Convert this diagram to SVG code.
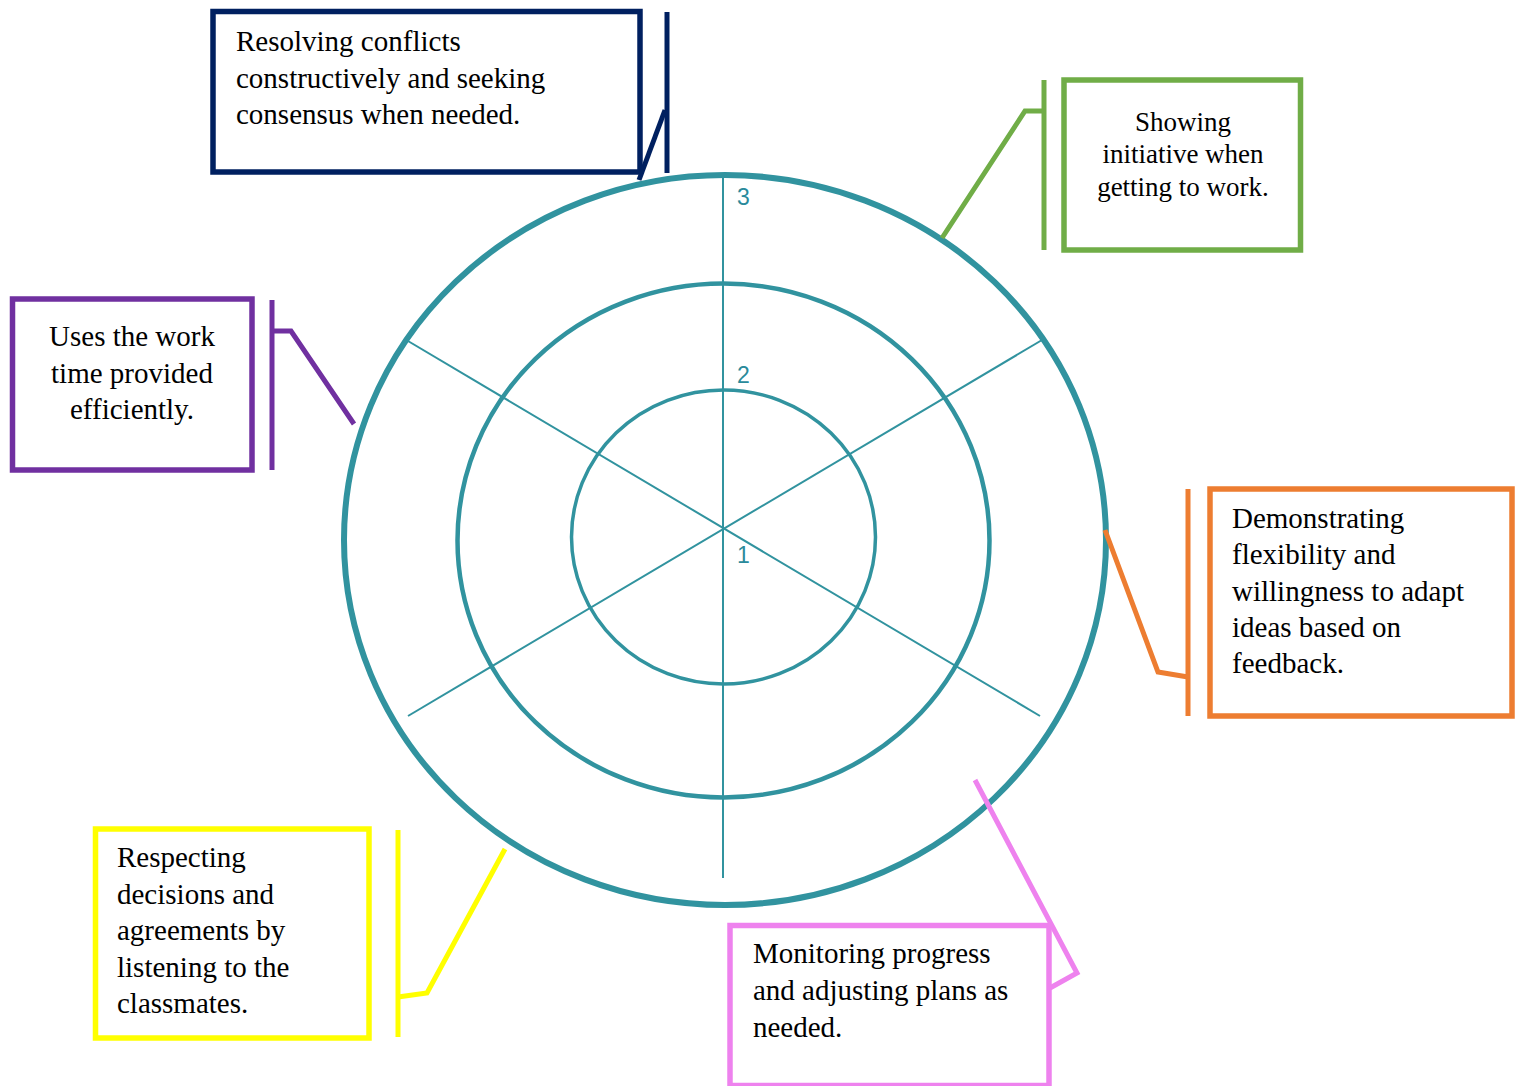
<svg xmlns="http://www.w3.org/2000/svg" width="1518" height="1086" viewBox="0 0 1518 1086">
<style>
.ring{fill:none;stroke:#31939F}
.spoke{stroke:#31939F;stroke-width:2;fill:none}
.num{font-family:"Liberation Sans","Open Sans",sans-serif;font-size:23px;fill:#2A8A9B}
.box{fill:#fff;stroke-width:5.5}
.lead{fill:none;stroke-width:5;stroke-linejoin:miter}
.t{font-family:"Liberation Serif","Times New Roman",serif;font-size:29px;fill:#000}
.t27{font-size:27px}
.tc{text-anchor:middle}
</style>
<rect width="1518" height="1086" fill="#fff"/>
<g id="wheel">
  <ellipse class="ring" cx="725" cy="540" rx="381" ry="365" stroke-width="6"/>
  <ellipse class="ring" cx="723.5" cy="540.5" rx="266" ry="257" stroke-width="4.5"/>
  <ellipse class="ring" cx="723.5" cy="537" rx="152" ry="147" stroke-width="3.5"/>
  <line class="spoke" x1="723" y1="176" x2="723" y2="878"/>
  <line class="spoke" x1="408" y1="341" x2="1040" y2="716"/>
  <line class="spoke" x1="1042" y1="340" x2="408" y2="716"/>
  <text class="num" x="737" y="205">3</text>
  <text class="num" x="737" y="383">2</text>
  <text class="num" x="737" y="563">1</text>
</g>
<g id="connectors">
  <polyline class="lead" stroke="#002060" points="667,12 667,173"/>
  <polyline class="lead" stroke="#002060" points="665,110 639,180"/>
  <polyline class="lead" stroke="#70AD47" points="1044,80 1044,250"/>
  <polyline class="lead" stroke="#70AD47" points="1044,111 1025,111 942,238"/>
  <polyline class="lead" stroke="#7030A0" points="272,300 272,470"/>
  <polyline class="lead" stroke="#7030A0" points="272,331 291,331 354,424"/>
  <polyline class="lead" stroke="#ED7D31" points="1188,489 1188,716"/>
  <polyline class="lead" stroke="#ED7D31" points="1188,677 1158,672 1105,530"/>
  <polyline class="lead" stroke="#FFFF00" points="398,830 398,1037"/>
  <polyline class="lead" stroke="#FFFF00" points="398,997 427,993 505,849"/>
  <polyline class="lead" stroke="#EE82EE" points="975,780 1077,973 1050,988"/>
</g>
<g id="node-resolving">
  <rect class="box" stroke="#002060" x="213" y="11.5" width="427" height="160.5"/>
  <text class="t" x="236" y="51">Resolving conflicts</text>
  <text class="t" x="236" y="87.5">constructively and seeking</text>
  <text class="t" x="236" y="124">consensus when needed.</text>
</g>
<g id="node-initiative">
  <rect class="box" stroke="#70AD47" x="1064" y="80" width="236.5" height="170"/>
  <text class="t t27 tc" x="1183" y="131">Showing</text>
  <text class="t t27 tc" x="1183" y="163">initiative when</text>
  <text class="t t27 tc" x="1183" y="196">getting to work.</text>
</g>
<g id="node-worktime">
  <rect class="box" stroke="#7030A0" x="12.5" y="299" width="239.5" height="171" stroke-width="6"/>
  <text class="t tc" x="132" y="346">Uses the work</text>
  <text class="t tc" x="132" y="383">time provided</text>
  <text class="t tc" x="132" y="419">efficiently.</text>
</g>
<g id="node-flexibility">
  <rect class="box" stroke="#ED7D31" x="1210" y="489" width="302" height="227"/>
  <text class="t" x="1232" y="528">Demonstrating</text>
  <text class="t" x="1232" y="564">flexibility and</text>
  <text class="t" x="1232" y="601">willingness to adapt</text>
  <text class="t" x="1232" y="637">ideas based on</text>
  <text class="t" x="1232" y="673">feedback.</text>
</g>
<g id="node-respecting">
  <rect class="box" stroke="#FFFF00" x="95.5" y="829" width="273.5" height="209"/>
  <text class="t" x="117" y="867">Respecting</text>
  <text class="t" x="117" y="904">decisions and</text>
  <text class="t" x="117" y="940">agreements by</text>
  <text class="t" x="117" y="977">listening to the</text>
  <text class="t" x="117" y="1013">classmates.</text>
</g>
<g id="node-monitoring">
  <rect class="box" stroke="#EE82EE" x="730" y="925.5" width="319" height="160"/>
  <text class="t" x="753" y="963">Monitoring progress</text>
  <text class="t" x="753" y="1000">and adjusting plans as</text>
  <text class="t" x="753" y="1037">needed.</text>
</g>
</svg>
